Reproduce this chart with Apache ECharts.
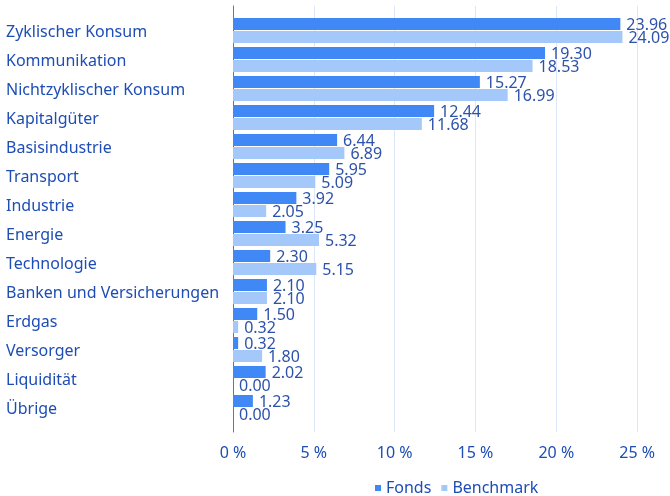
<!DOCTYPE html>
<html lang="de">
<head>
    <meta charset="UTF-8">
    <title>Sektoren</title>
    <script src="https://cdn.jsdelivr.net/npm/echarts@6/dist/echarts.min.js"></script>
    <style>
        html,body{ margin:0; padding:0; background:#fff; }
    </style>
</head>
<body>
<div id="main" style="width:670px;height:496px"></div>
<script>
    // Daten
    var categories = ['Zyklischer Konsum', 'Kommunikation', 'Nichtzyklischer Konsum', 'Kapitalgüter',
        'Basisindustrie', 'Transport', 'Industrie', 'Energie', 'Technologie',
        'Banken und Versicherungen', 'Erdgas', 'Versorger', 'Liquidität', 'Übrige'];
    var fonds = [23.96, 19.30, 15.27, 12.44, 6.44, 5.95, 3.92, 3.25, 2.30, 2.10, 1.50, 0.32, 2.02, 1.23];
    var benchmark = [24.09, 18.53, 16.99, 11.68, 6.89, 5.09, 2.05, 5.32, 5.15, 2.10, 0.32, 1.80, 0.00, 0.00];

    var font = 'Noto Sans';
    var textColor = '#1d4db5';
    var labelColor = '#2d52ab';

    var myChart = echarts.init(document.getElementById('main'));

    function barLabel() {
        return {
            show: true,
            position: 'right',
            distance: 6,
            offset: [0, 1],
            color: labelColor,
            fontFamily: font,
            fontSize: 16,
            formatter: function (p) { return p.value.toFixed(2); }
        };
    }

    var option = {
        animation: false,
        textStyle: { fontFamily: font },
        legend: {
            left: 370,
            top: 475,
            icon: 'rect',
            itemWidth: 6,
            itemHeight: 6,
            itemGap: 10,
            textStyle: { color: textColor, fontSize: 16, fontFamily: font },
            data: ['Fonds', 'Benchmark']
        },
        grid: [
            // Hintergrund: Gitterlinien, Achse
            { left: 233, width: 485, top: 6, height: 426, outerBoundsMode: 'none', containLabel: false },
            // Balken
            { left: 233, width: 485, top: 16, height: 406, outerBoundsMode: 'none', containLabel: false },
            // Kategorienbeschriftung
            { left: 233, width: 485, top: 18, height: 406, outerBoundsMode: 'none', containLabel: false }
        ],
        xAxis: [
            {
                gridIndex: 0, type: 'value', min: 0, max: 30, interval: 5,
                axisLine: { show: false }, axisTick: { show: false },
                splitLine: { lineStyle: { color: '#dce8fa', width: 1 } },
                axisLabel: {
                    showMaxLabel: false, margin: 13,
                    color: textColor, fontSize: 16, fontFamily: font,
                    formatter: '{value} %'
                }
            },
            { gridIndex: 1, type: 'value', min: 0, max: 30, interval: 5, show: false },
            { gridIndex: 2, type: 'value', min: 0, max: 30, interval: 5, show: false }
        ],
        yAxis: [
            {
                gridIndex: 0, type: 'category', data: categories, inverse: true,
                axisLine: { show: true, lineStyle: { color: '#4f77cc', width: 1 } },
                axisTick: { show: false }, axisLabel: { show: false }
            },
            {
                gridIndex: 1, type: 'category', data: categories, inverse: true,
                axisLine: { show: false }, axisTick: { show: false }, axisLabel: { show: false }
            },
            {
                gridIndex: 2, type: 'category', data: categories, inverse: true,
                axisLine: { show: false }, axisTick: { show: false },
                axisLabel: {
                    align: 'left', margin: 227,
                    color: textColor, fontSize: 16, fontFamily: font
                }
            }
        ],
        series: [
            {
                name: 'Fonds', type: 'bar', xAxisIndex: 1, yAxisIndex: 1,
                data: fonds, barWidth: 12, barGap: '8%',
                itemStyle: { color: '#3f88f5' },
                label: barLabel()
            },
            {
                name: 'Benchmark', type: 'bar', xAxisIndex: 1, yAxisIndex: 1,
                data: benchmark, barWidth: 12, barGap: '8%',
                itemStyle: { color: '#a5c8fa' },
                label: barLabel()
            }
        ]
    };
    myChart.setOption(option);
</script>
</body>
</html>
